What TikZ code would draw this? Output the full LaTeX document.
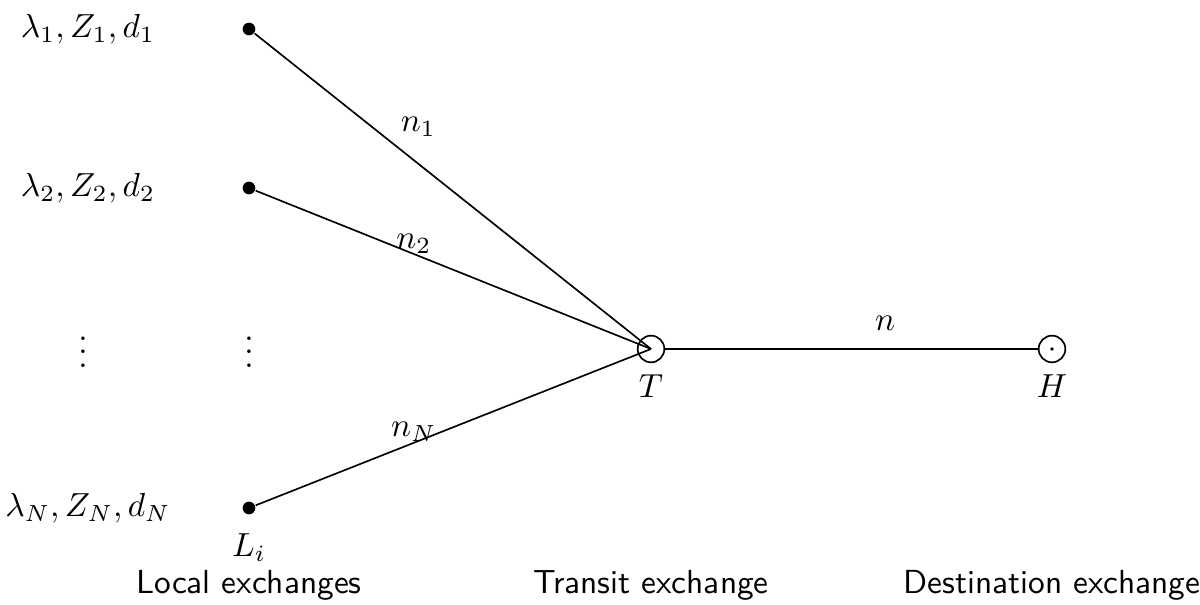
\documentclass[tikz,border=0pt]{standalone}
\usetikzlibrary{positioning}
\tikzset{
  every picture/.style={line width=0.5pt},
  localx/.style={circle, fill=black, inner sep=0pt, minimum size=3.8pt},
  exch/.style={circle, draw, inner sep=0pt, minimum size=8pt},
  trunk/.style={draw, line width=0.5pt},
  caption/.style={font=\sffamily},
}
\begin{document}
\begin{tikzpicture}[x=0.3pt, y=-0.3pt]
  \useasboundingbox (0,0) rectangle (1200,605);
  % local exchanges with their traffic parameters
  \foreach \k/\y in {1/29, 2/188, N/508} {
    \node[localx] (L\k) at (249,\y) {};
    \node (P\k) at (88,\y) {$\lambda_\k, Z_\k, d_\k$};
  }
  \node (vl) at (83,342) {$\vdots$};
  \node (vr) at (249,342) {$\vdots$};
  \node[below=4pt of LN.center] (Li) {$L_i$};
  % transit and destination exchanges
  \node[exch, label={[label distance=0pt]below:$T$}] (T) at (651,349) {};
  \node[exch, label={[label distance=0pt]below:$H$}] (H) at (1052,349) {};
  \fill (H.center) circle (0.55pt);
  % trunk groups
  \draw[trunk] (L1) -- node[pos=0.35, above right, inner sep=2pt] {$n_1$} (T.center);
  \draw[trunk] (L2) -- node[pos=0.4, above, inner sep=0pt] {$n_2$} (T.center);
  \draw[trunk] (LN) -- node[pos=0.4, above, inner sep=0pt] {$n_N$} (T.center);
  \draw[trunk] (T) -- node[pos=0.59, above=2pt] {$n$} (H);
  % captions
  \node[caption] (cL) at (249,585) {Local exchanges};
  \node[caption] (cT) at (651,585) {Transit exchange};
  \node[caption] (cH) at (1052,585) {Destination exchange};
\end{tikzpicture}
\end{document}
